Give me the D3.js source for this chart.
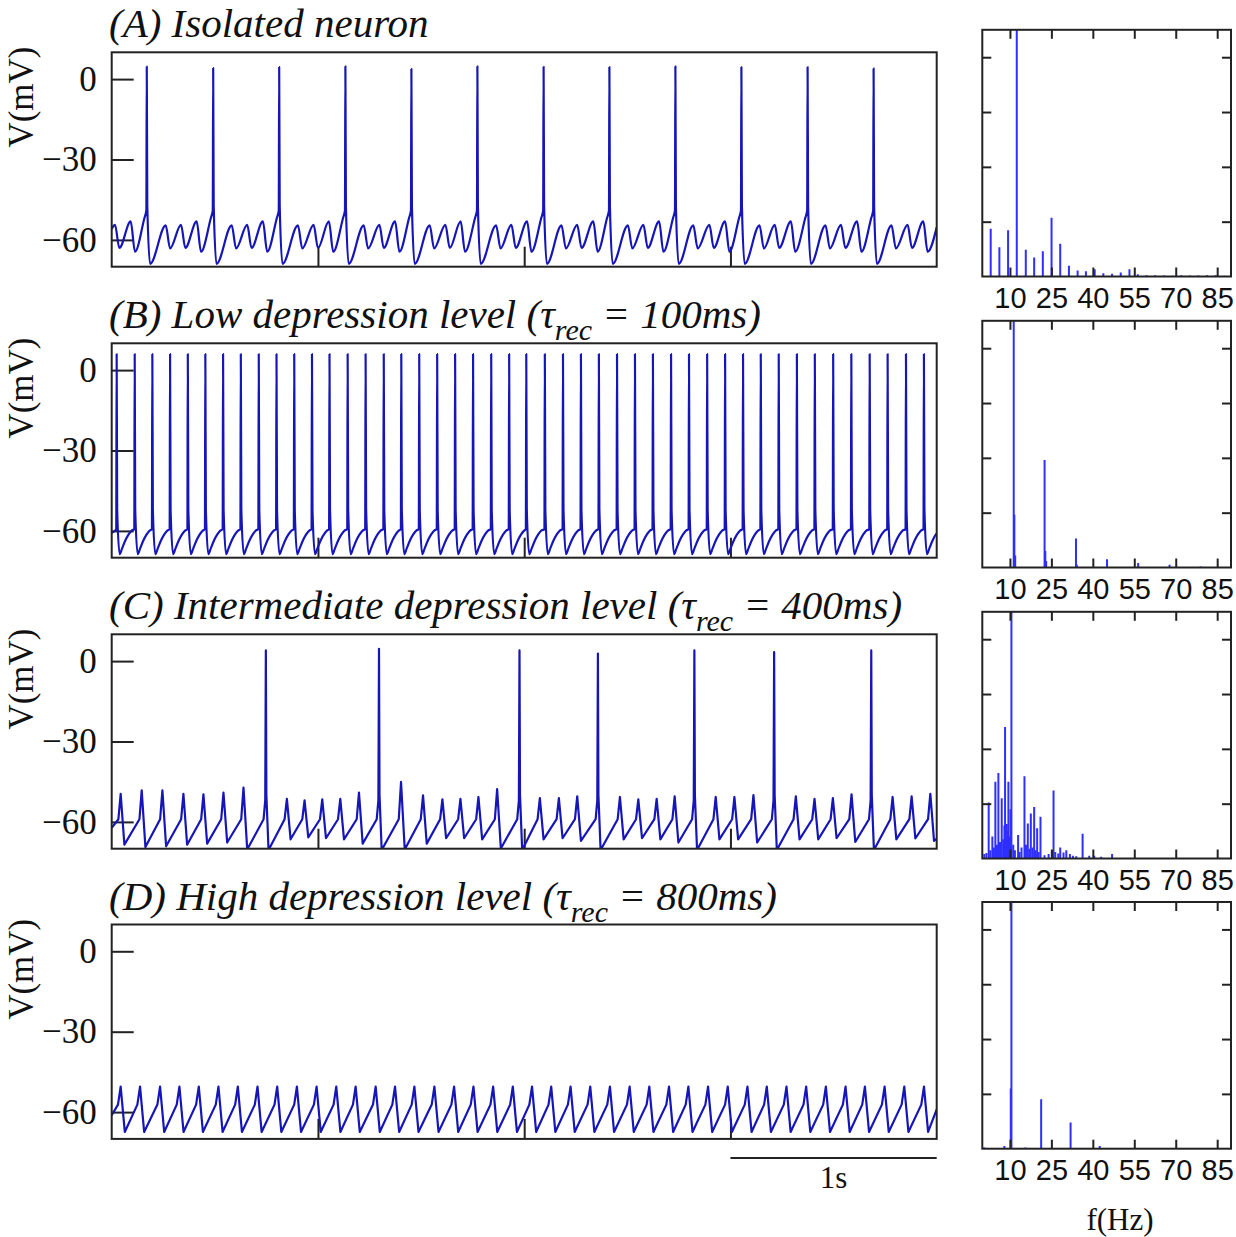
<!DOCTYPE html>
<html>
<head>
<meta charset="utf-8">
<script src="https://cdn.jsdelivr.net/npm/d3@7"></script>
<style>
  body { margin: 0; background: #fff; }
</style>
</head>
<body>
<svg id="chart" width="1236" height="1237"></svg>
<script>
// ---------------- data ----------------
// trace events: [time (s), peak V (mV), trough V after the event (mV)]
// a peak above 0 mV is a spike, the rest are subthreshold bumps
const traceA = [
  [0.016,-54.4,-63.0],[0.092,-53.1,-64.4],[0.170,4.7,-69.0],
  [0.262,-54.6,-63.2],[0.336,-54.4,-63.0],[0.412,-53.1,-64.4],[0.492,4.1,-69.0],
  [0.582,-54.6,-63.2],[0.657,-54.4,-63.0],[0.733,-53.1,-64.4],[0.812,4.5,-69.0],
  [0.903,-54.6,-63.2],[0.979,-54.4,-63.0],[1.053,-53.1,-64.4],[1.133,4.8,-69.0],
  [1.222,-54.6,-63.2],[1.298,-54.4,-63.0],[1.374,-53.1,-64.4],[1.453,3.8,-69.0],
  [1.542,-54.6,-63.2],[1.618,-54.4,-63.0],[1.692,-53.1,-64.4],[1.773,4.8,-69.0],
  [1.864,-54.6,-63.2],[1.938,-54.4,-63.0],[2.014,-53.1,-64.4],[2.094,4.6,-69.0],
  [2.181,-54.6,-63.2],[2.257,-54.4,-63.0],[2.335,-53.1,-64.4],[2.413,4.5,-69.0],
  [2.503,-54.6,-63.2],[2.578,-54.4,-63.0],[2.654,-53.1,-64.4],[2.733,4.8,-69.0],
  [2.820,-54.6,-63.2],[2.898,-54.4,-63.0],[2.974,-53.1,-64.4],[3.053,4.5,-69.0],
  [3.141,-54.6,-63.2],[3.215,-54.4,-63.0],[3.293,-53.1,-64.4],[3.374,4.5,-69.0],
  [3.461,-54.6,-63.2],[3.536,-54.4,-63.0],[3.614,-53.1,-64.4],[3.694,4.0,-69.0],
  [3.781,-54.6,-63.2],[3.859,-54.4,-63.0],[3.935,-53.1,-64.4]
];

const spikeTimesB = [
  0.024,0.1115,0.197,0.283,0.369,0.454,0.540,0.626,0.713,0.799,0.885,0.971,
  1.056,1.144,1.231,1.319,1.404,1.491,1.578,1.665,1.752,1.840,1.927,2.010,
  2.100,2.188,2.275,2.362,2.450,2.537,2.624,2.712,2.799,2.887,2.974,3.061,
  3.147,3.234,3.322,3.409,3.498,3.586,3.675,3.762,3.851,3.938
];
const traceB = spikeTimesB.map(t => [t, 6.0, -68.7]);

const traceC = [
  [0.0435,-49.5,-68.5],[0.1455,-48.2,-69.4],[0.2458,-48.2,-69.1],[0.3477,-49.5,-68.5],
  [0.4448,-49.7,-68.1],[0.5419,-49.1,-67.7],[0.6390,-47.2,-70.3],[0.7474,4.0,-70.5],
  [0.8494,-51.4,-66.5],[0.9351,-52.0,-65.8],[1.0209,-51.6,-66.1],[1.1083,-51.4,-66.5],
  [1.1989,-49.1,-68.1],[1.2960,4.6,-70.5],[1.4028,-45.1,-70.3],[1.5095,-50.1,-68.1],
  [1.6034,-51.6,-66.1],[1.6908,-51.4,-66.1],[1.7782,-50.7,-66.5],[1.8688,-47.8,-69.9],
  [1.9772,4.0,-70.5],[2.0759,-51.1,-66.5],[2.1681,-51.1,-66.1],[2.2571,-50.5,-67.1],
  [2.3574,2.8,-70.5],[2.4642,-50.7,-66.5],[2.5533,-51.6,-66.1],[2.6422,-51.4,-66.5],
  [2.7296,-50.5,-67.7],[2.8251,4.0,-70.5],[2.9286,-50.7,-66.5],[3.0193,-50.7,-66.5],
  [3.1115,-50.0,-67.7],[3.2118,3.4,-70.5],[3.3170,-50.5,-66.5],[3.4076,-51.4,-66.5],
  [3.4966,-51.1,-66.1],[3.5872,-49.7,-67.5],[3.6827,4.0,-70.5],[3.7863,-50.7,-66.5],
  [3.8785,-50.5,-66.2],[3.9691,-49.5,-67.1]
];

const peakTimesD = [
  0.0435,0.1374,0.2345,0.3283,0.4222,0.5176,0.6115,0.7069,0.8024,0.8979,0.9934,
  1.0888,1.1827,1.2798,1.3736,1.4675,1.5646,1.6600,1.7539,1.8494,1.9448,2.0379,
  2.1309,2.2248,2.3202,2.4157,2.5112,2.6066,2.7021,2.7960,2.8914,2.9869,3.0824,
  3.1762,3.2717,3.3671,3.4626,3.5581,3.6519,3.7474,3.8429,3.9383
];
const traceD = peakTimesD.map(t => [t, -50.5, -67.4]);

// membrane potential at the first and last sample of each trace (mV)
const startV = [-55.9, -60.7, -62.2, -61.2];
const endV = [-55.3, -61.0, -66.3, -59.0];

// power spectra: [frequency (Hz), amplitude (tick units)]
const specA = [
  [3.04,0.87],[6.18,0.535],[9.33,0.845],[12.47,5],[15.74,0.487],[18.77,0.347],
  [21.9,0.462],[25.06,1.07],[28.2,0.596],[31.35,0.195],[34.5,0.11],[37.5,0.097],
  [40.67,0.134],[43.8,0.06],[46.96,0.049],[50.1,0.073],[53.25,0.134],[56.27,0.043],
  [59.4,0.024],[62.57,0.024],[65.7,0.018],[68.86,0.012],[72,0.024],[75.15,0.018],
  [78.2,0.018],[81.3,0.024],[84.46,0.024],[87.6,0.012]
];
const specB = [
  [11.37,5],[11.6,0.96],[11.9,0.22],[22.54,1.96],[22.8,0.3],[23.1,0.12],
  [33.9,0.53],[34.2,0.05],[45.14,0.152],[56.4,0.08],[67.77,0.049],[79.0,0.018]
];
const specC = [
  [0.73,0.08],[1.5,0.1],[2.31,1.02],[2.9,0.15],[3.64,0.4],[4.2,0.2],[4.73,1.4],
  [5.3,0.25],[5.82,1.56],[6.4,0.3],[7.03,1.1],[7.6,0.35],[8.0,0.6],[8.24,2.4],
  [8.85,0.63],[9.0,0.5],[9.45,1.4],[9.8,0.4],[10.2,0.9],[10.54,5],[11.2,0.25],
  [11.8,0.15],[12.96,0.43],[13.5,0.12],[14.2,0.2],[15.26,1.5],[15.8,0.25],
  [16.47,0.64],[17.0,0.18],[17.56,0.82],[18.2,0.2],[18.77,0.94],[19.3,0.15],
  [19.85,0.55],[20.4,0.12],[21.06,0.76],[22.5,0.06],[24.0,0.08],[25.2,0.15],
  [25.78,1.24],[26.4,0.12],[27.5,0.09],[28.2,0.2],[29.4,0.11],[30.4,0.15],
  [31.7,0.08],[32.8,0.05],[34.0,0.04],[36.3,0.45],[38.7,0.05],[40.5,0.05],
  [43.0,0.03],[46.96,0.08]
];
const specD = [
  [0.7,0.02],[7.99,0.05],[10.3,1.1],[10.54,5],[15.6,0.02],[21.3,0.9],
  [31.95,0.48],[42.5,0.05]
];

const vTicks = [0, -30, -60];
const tTicks = [1, 2, 3];
const fTicks = [10, 25, 40, 55, 70, 85];
const ampTicks = [1, 2, 3, 4];

const titles = [
  [["(A) Isolated neuron", false]],
  [["(B) Low depression level (\u03c4", false], ["rec", true], [" = 100ms)", false]],
  [["(C) Intermediate depression level (\u03c4", false], ["rec", true], [" = 400ms)", false]],
  [["(D) High depression level (\u03c4", false], ["rec", true], [" = 800ms)", false]]
];

// ---------------- layout / style ----------------
const W = 1236, H = 1237;
const serif = "'Liberation Serif', 'Times New Roman', serif";
const sans = "'Liberation Sans', Arial, sans-serif";
const traceColor = "#1616b8";
const specColor = "#2f2fff";
const axisColor = "#222";

const traceLeft = 111.7, traceRight = 936.7, traceH = 214.4;
const rowTop = [52.3, 343.3, 634.3, 924.5];
const specLeft = 982.3, specRight = 1231, specH = 246.7, specOffset = -22.5;

// waveform templates per panel (how a bump / spike is drawn around its event time)
const shapes = [
  { pre: [[-0.012,-52],[-0.002,-49]], post: -47, spikeFall: 0.016, knee: null, fall: 0.021,
    curve: d3.curveMonotoneX },
  { pre: [[-0.002,-59.4]], post: -52, spikeFall: 0.0146,
    recovery: [[0.026,-66.6],[0.042,-63.6],[0.058,-61.3],[0.074,-59.8]],
    curve: d3.curveMonotoneX },
  { pre: [[-0.011,-59],[-0.003,-52]], post: -50, spikeFall: 0.013, knee: -59, kneeLead: 0.011,
    fall: 0.018, curve: d3.curveLinear },
  { pre: [[-0.013,-57.2]], post: -50, spikeFall: 0.02, knee: -57.2, kneeLead: 0.013,
    fall: 0.02, curve: d3.curveLinear }
];

const traces = [traceA, traceB, traceC, traceD];
const spectra = [specA, specB, specC, specD];

function buildTrace(events, shape, v0, v1) {
  const pts = [[0, v0]];
  events.forEach((e, i) => {
    const [t, peak, trough] = e;
    const next = events[i + 1];
    if (peak > 0) {
      shape.pre.forEach(([dt, v]) => pts.push([t + dt, v]));
      pts.push([t, peak]);
      pts.push([t + 0.0025, shape.post]);
      pts.push([t + shape.spikeFall, trough]);
      if (shape.recovery) {
        const limit = next ? next[0] - 0.004 : 4;
        shape.recovery.forEach(([dt, v]) => { if (t + dt < limit) pts.push([t + dt, v]); });
      }
    } else {
      if (shape.knee != null) pts.push([t - shape.kneeLead, shape.knee]);
      pts.push([t, peak]);
      pts.push([t + shape.fall, trough]);
    }
  });
  pts.push([4, v1]);
  return pts;
}

const svg = d3.select("#chart");
svg.append("rect").attr("width", W).attr("height", H).attr("fill", "#fff");
const defs = svg.append("defs");

const x = d3.scaleLinear().domain([0, 4]).range([traceLeft, traceRight]);
const fx = d3.scaleLinear().domain([0, 90]).range([specLeft, specRight]);

function styleAxis(g) {
  g.select(".domain").remove();
  g.selectAll(".tick line").attr("stroke", axisColor).attr("stroke-width", 2);
}

rowTop.forEach((top, i) => {
  const y = d3.scaleLinear().domain([-70, 10]).range([top + traceH, top]);
  const g = svg.append("g");

  // title
  const title = g.append("text")
    .attr("x", 109).attr("y", top - 15)
    .attr("font-family", serif).attr("font-style", "italic")
    .attr("font-size", 41).attr("fill", "#111");
  let shifted = false;
  titles[i].forEach(([txt, sub]) => {
    const ts = title.append("tspan").text(txt);
    if (sub) { ts.attr("font-size", 30).attr("dy", 12); shifted = true; }
    else if (shifted) { ts.attr("dy", -12); shifted = false; }
  });

  // trace clip
  defs.append("clipPath").attr("id", "clipT" + i)
    .append("rect").attr("x", traceLeft).attr("y", top)
    .attr("width", traceRight - traceLeft).attr("height", traceH);

  // y axis (ticks inside)
  g.append("g").attr("transform", `translate(${traceLeft},0)`)
    .call(d3.axisLeft(y).tickValues(vTicks).tickSize(-22).tickPadding(15))
    .call(styleAxis)
    .call(a => a.selectAll("text").attr("font-family", serif).attr("font-size", 35)
      .attr("fill", "#111"));

  // time ticks
  g.append("g").attr("transform", `translate(0,${top + traceH})`)
    .call(d3.axisBottom(x).tickValues(tTicks).tickSize(-20).tickFormat(""))
    .call(styleAxis);

  // trace
  const line = d3.line().x(d => x(d[0])).y(d => y(d[1])).curve(shapes[i].curve);
  g.append("path")
    .datum(buildTrace(traces[i], shapes[i], startV[i], endV[i]))
    .attr("clip-path", `url(#clipT${i})`)
    .attr("fill", "none").attr("stroke", traceColor)
    .attr("stroke-width", 2.2).attr("stroke-linejoin", "round")
    .attr("d", line);

  // frame
  g.append("rect").attr("x", traceLeft).attr("y", top)
    .attr("width", traceRight - traceLeft).attr("height", traceH)
    .attr("fill", "none").attr("stroke", axisColor).attr("stroke-width", 2);

  // y label
  g.append("text")
    .attr("transform", `translate(33,${y(0) + 18}) rotate(-90)`)
    .attr("text-anchor", "middle")
    .attr("font-family", serif).attr("font-size", 35).attr("fill", "#111")
    .text("V(mV)");

  // ---- spectrum panel ----
  const sTop = top + specOffset;
  const sy = d3.scaleLinear().domain([0, 4.5]).range([sTop + specH, sTop]);
  const sg = svg.append("g");
  defs.append("clipPath").attr("id", "clipS" + i)
    .append("rect").attr("x", specLeft).attr("y", sTop)
    .attr("width", specRight - specLeft).attr("height", specH);

  sg.append("g").attr("clip-path", `url(#clipS${i})`)
    .selectAll("line").data(spectra[i]).join("line")
    .attr("x1", d => fx(d[0])).attr("x2", d => fx(d[0]))
    .attr("y1", sy(0)).attr("y2", d => sy(d[1]))
    .attr("stroke", specColor).attr("stroke-width", 2);

  sg.append("g").attr("transform", `translate(0,${sTop + specH})`)
    .call(d3.axisBottom(fx).tickValues(fTicks).tickSize(-9).tickPadding(11))
    .call(styleAxis)
    .call(a => a.selectAll("text").attr("font-family", sans).attr("font-size", 29)
      .attr("fill", "#111"));
  sg.append("g").attr("transform", `translate(0,${sTop})`)
    .call(d3.axisTop(fx).tickValues(fTicks).tickSize(-9).tickFormat(""))
    .call(styleAxis);
  sg.append("g").attr("transform", `translate(${specLeft},0)`)
    .call(d3.axisLeft(sy).tickValues(ampTicks).tickSize(-9).tickFormat(""))
    .call(styleAxis);
  sg.append("g").attr("transform", `translate(${specRight},0)`)
    .call(d3.axisRight(sy).tickValues(ampTicks).tickSize(-9).tickFormat(""))
    .call(styleAxis);
  sg.append("rect").attr("x", specLeft).attr("y", sTop)
    .attr("width", specRight - specLeft).attr("height", specH)
    .attr("fill", "none").attr("stroke", axisColor).attr("stroke-width", 2);
});

// 1 s scale bar under the last trace
const barY = 1158;
svg.append("line").attr("x1", x(3)).attr("x2", x(4)).attr("y1", barY).attr("y2", barY)
  .attr("stroke", axisColor).attr("stroke-width", 2);
svg.append("text").attr("x", (x(3) + x(4)) / 2).attr("y", 1188)
  .attr("text-anchor", "middle").attr("font-family", serif).attr("font-size", 31)
  .attr("fill", "#111").text("1s");

// frequency axis label
svg.append("text").attr("x", 1120).attr("y", 1230)
  .attr("text-anchor", "middle").attr("font-family", serif).attr("font-size", 31)
  .attr("fill", "#111").text("f(Hz)");
</script>
</body>
</html>
